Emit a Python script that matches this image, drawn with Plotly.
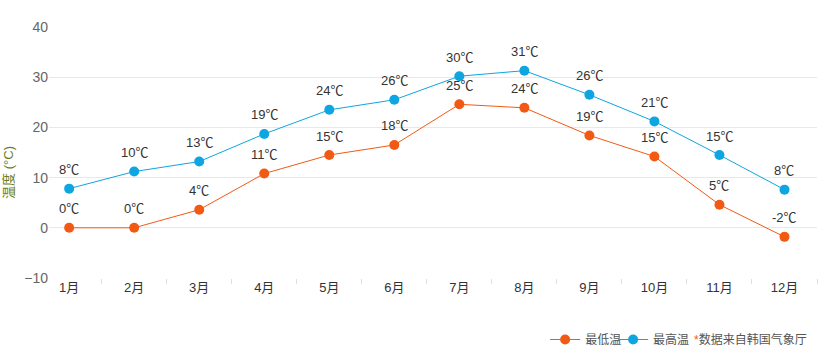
import plotly.graph_objects as go

months = ["1月", "2月", "3月", "4月", "5月", "6月", "7月", "8月", "9月", "10月", "11月", "12月"]
low_values = [0, 0, 3.6, 10.8, 14.5, 16.5, 24.6, 23.9, 18.4, 14.2, 4.6, -1.8]
high_values = [7.8, 11.2, 13.2, 18.7, 23.5, 25.5, 30.2, 31.3, 26.5, 21.2, 14.5, 7.6]
low_labels = ["0℃", "0℃", "4℃", "11℃", "15℃", "18℃", "25℃", "24℃", "19℃", "15℃", "5℃", "-2℃"]
high_labels = ["8℃", "10℃", "13℃", "19℃", "24℃", "26℃", "30℃", "31℃", "26℃", "21℃", "15℃", "8℃"]
y_ticks = [-10, 0, 10, 20, 30, 40]

ORANGE = "#f25a14"
BLUE = "#0ea6e0"
FONT = "Arial, Liberation Sans, Noto Sans CJK SC, sans-serif"

fig = go.Figure()
fig.add_trace(go.Scatter(
    x=months, y=low_values, name="最低温", mode="lines+markers",
    line=dict(color=ORANGE, width=1), marker=dict(color=ORANGE, size=10),
    cliponaxis=False, legend="legend",
))
fig.add_trace(go.Scatter(
    x=months, y=high_values, name="最高温", mode="lines+markers",
    line=dict(color=BLUE, width=1), marker=dict(color=BLUE, size=10),
    cliponaxis=False, legend="legend2",
))

annotations = []
for vals, labs in ((low_values, low_labels), (high_values, high_labels)):
    for m, v, t in zip(months, vals, labs):
        annotations.append(dict(
            x=m, y=v, text=t, showarrow=False, xanchor="center", yanchor="middle",
            yshift=19, font=dict(size=13, color="#333", family=FONT)))

annotations += [
    dict(text="温度 (°C)", textangle=-90, xref="paper", yref="paper",
         x=-0.053, y=0.42, xanchor="center", yanchor="middle", showarrow=False,
         font=dict(size=13, color="#6b7d18", family=FONT)),
    dict(text="<span style='color:#f25a14'>*</span>数据来自韩国气象厅",
         xref="paper", yref="paper", x=0.99, y=-0.245, xanchor="right", yanchor="middle",
         showarrow=False, font=dict(size=12, color="#555", family=FONT)),
]

legend_common = dict(orientation="h", y=-0.245, xanchor="left", yanchor="middle",
                     font=dict(size=12, color="#555", family=FONT),
                     itemwidth=30, tracegroupgap=0, bgcolor="rgba(0,0,0,0)")

fig.update_layout(
    width=818, height=363,
    margin=dict(l=49, r=1, t=27, b=85, autoexpand=False),
    plot_bgcolor="white", paper_bgcolor="white",
    font=dict(family=FONT, size=13, color="#666"),
    showlegend=True,
    legend=dict(x=0.646, **legend_common),
    legend2=dict(x=0.7345, **legend_common),
    xaxis=dict(
        type="category", range=[-0.31, 11.5],
        showgrid=False, showline=False, zeroline=False,
        ticks="outside", tickson="boundaries", ticklen=5, tickcolor="#e0e0e0",
        tickfont=dict(size=13, color="#333", family=FONT),
    ),
    yaxis=dict(
        range=[-10, 40], tickvals=y_ticks, showgrid=True, gridcolor="#e8e8e8",
        zeroline=False, showline=False, ticks="",
        tickfont=dict(size=14, color="#666", family=FONT),
    ),
    annotations=annotations,
)

fig.write_html("out.html", config={"displayModeBar": False},
               post_script="document.body.style.margin='0';document.body.style.overflow='hidden';")
